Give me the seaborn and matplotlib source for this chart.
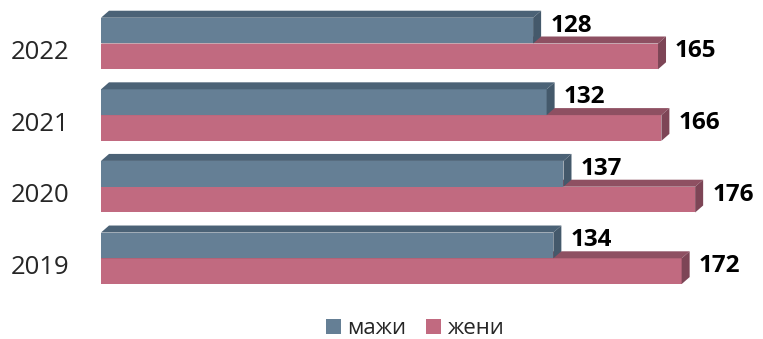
import seaborn as sns
import matplotlib.pyplot as plt
import matplotlib.transforms as mtransforms
import pandas as pd
from matplotlib.patches import Polygon, Patch

sns.set_style("white")
plt.rcParams['font.family'] = ['Open Sans', 'DejaVu Sans']

years = ['2022', '2021', '2020', '2019']
men = [128, 132, 137, 134]
women = [165, 166, 176, 172]
labels = ['мажи', 'жени']

front = ['#657f95', '#c16a80']
top = ['#4b6276', '#8e5062']
side = ['#44596b', '#7d4556']

df = pd.DataFrame({
    'year': years * 2,
    'value': men + women,
    'sex': [labels[0]] * len(years) + [labels[1]] * len(years),
})

fig = plt.figure(figsize=(7.63, 3.39), dpi=100)
ax = fig.add_axes([101 / 763, 1 - 294.1 / 339, 1 - 101 / 763, (294.1 - 7.7) / 339])

sns.barplot(data=df, x='value', y='year', hue='sex', order=years, hue_order=labels,
            orient='h', palette=front, saturation=1, width=0.72, linewidth=0,
            legend=False, ax=ax)

ax.set_xlim(0, 196.1)
ax.set_ylim(3.5, -0.5)

# fake 3d depth like the excel chart
dx = 8 / 3.375
dy = 7 / 71.6
for idx in [1, 0]:
    z = 2 + (1 - idx) * 2
    for bar in ax.containers[idx]:
        bar.set_zorder(z)
        x0, y0 = bar.get_x(), bar.get_y()
        x1, y1 = x0 + bar.get_width(), y0 + bar.get_height()
        ax.add_patch(Polygon([(x0, y0), (x1, y0), (x1 + dx, y0 - dy), (x0 + dx, y0 - dy)],
                             closed=True, facecolor=top[idx], lw=0, zorder=z + 1))
        ax.add_patch(Polygon([(x1, y0), (x1, y1), (x1 + dx, y1 - dy), (x1 + dx, y0 - dy)],
                             closed=True, facecolor=side[idx], lw=0, zorder=z + 1))
        ax.annotate(f'{int(bar.get_width())}', (x1, (y0 + y1) / 2),
                    xytext=(17, 5), textcoords='offset pixels',
                    ha='left', va='center', fontsize=17.5, fontweight='bold',
                    color='black', zorder=10, annotation_clip=False)

ax.set_xlabel('')
ax.set_ylabel('')
ax.set_xticks([])
ax.tick_params(axis='y', length=0, pad=23, labelsize=18.5)
# year labels sit a bit below the group centre in the original
shift = mtransforms.ScaledTranslation(0, -6 / 100, fig.dpi_scale_trans)
for lab in ax.get_yticklabels():
    lab.set_transform(lab.get_transform() + shift)
sns.despine(ax=ax, left=True, bottom=True)

handles = [Patch(facecolor=c, edgecolor='none') for c in front]
fig.legend(handles=handles, labels=labels, loc='center', bbox_to_anchor=(0.544, 0.03),
           ncol=2, frameon=False, fontsize=16, handlelength=0.65, handleheight=0.65,
           handletextpad=0.3, columnspacing=0.9, borderpad=0.1)

fig.savefig('out.png', dpi=100)
